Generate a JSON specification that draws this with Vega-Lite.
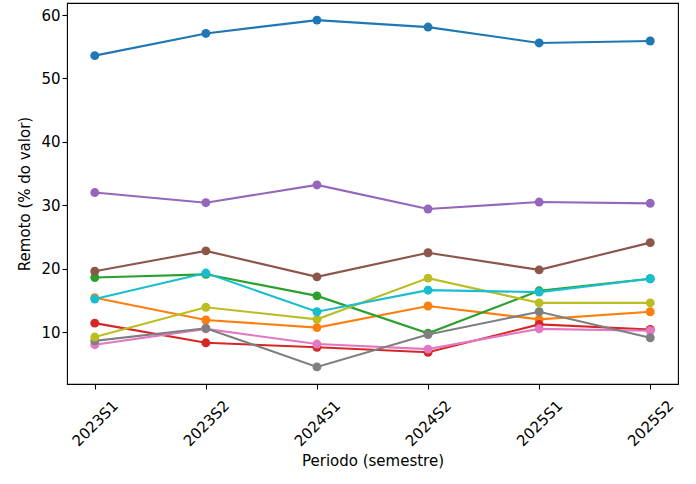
{
  "$schema": "https://vega.github.io/schema/vega-lite/v6.json",
  "width": 611,
  "height": 381,
  "autosize": "none",
  "padding": {"left": 67, "top": 3, "right": 18, "bottom": 100},
  "background": "white",
  "data": {
    "values": [
      {"serie": "A", "periodo": "2023S1", "valor": 53.6},
      {"serie": "A", "periodo": "2023S2", "valor": 57.1},
      {"serie": "A", "periodo": "2024S1", "valor": 59.2},
      {"serie": "A", "periodo": "2024S2", "valor": 58.1},
      {"serie": "A", "periodo": "2025S1", "valor": 55.6},
      {"serie": "A", "periodo": "2025S2", "valor": 55.9},
      {"serie": "B", "periodo": "2023S1", "valor": 15.4},
      {"serie": "B", "periodo": "2023S2", "valor": 11.9},
      {"serie": "B", "periodo": "2024S1", "valor": 10.7},
      {"serie": "B", "periodo": "2024S2", "valor": 14.1},
      {"serie": "B", "periodo": "2025S1", "valor": 12.0},
      {"serie": "B", "periodo": "2025S2", "valor": 13.2},
      {"serie": "C", "periodo": "2023S1", "valor": 18.6},
      {"serie": "C", "periodo": "2023S2", "valor": 19.1},
      {"serie": "C", "periodo": "2024S1", "valor": 15.7},
      {"serie": "C", "periodo": "2024S2", "valor": 9.8},
      {"serie": "C", "periodo": "2025S1", "valor": 16.5},
      {"serie": "C", "periodo": "2025S2", "valor": 18.4},
      {"serie": "D", "periodo": "2023S1", "valor": 11.4},
      {"serie": "D", "periodo": "2023S2", "valor": 8.3},
      {"serie": "D", "periodo": "2024S1", "valor": 7.6},
      {"serie": "D", "periodo": "2024S2", "valor": 6.8},
      {"serie": "D", "periodo": "2025S1", "valor": 11.2},
      {"serie": "D", "periodo": "2025S2", "valor": 10.4},
      {"serie": "E", "periodo": "2023S1", "valor": 32.0},
      {"serie": "E", "periodo": "2023S2", "valor": 30.4},
      {"serie": "E", "periodo": "2024S1", "valor": 33.2},
      {"serie": "E", "periodo": "2024S2", "valor": 29.4},
      {"serie": "E", "periodo": "2025S1", "valor": 30.5},
      {"serie": "E", "periodo": "2025S2", "valor": 30.3},
      {"serie": "F", "periodo": "2023S1", "valor": 19.6},
      {"serie": "F", "periodo": "2023S2", "valor": 22.8},
      {"serie": "F", "periodo": "2024S1", "valor": 18.7},
      {"serie": "F", "periodo": "2024S2", "valor": 22.5},
      {"serie": "F", "periodo": "2025S1", "valor": 19.8},
      {"serie": "F", "periodo": "2025S2", "valor": 24.1},
      {"serie": "G", "periodo": "2023S1", "valor": 8.0},
      {"serie": "G", "periodo": "2023S2", "valor": 10.5},
      {"serie": "G", "periodo": "2024S1", "valor": 8.1},
      {"serie": "G", "periodo": "2024S2", "valor": 7.3},
      {"serie": "G", "periodo": "2025S1", "valor": 10.5},
      {"serie": "G", "periodo": "2025S2", "valor": 10.2},
      {"serie": "H", "periodo": "2023S1", "valor": 8.6},
      {"serie": "H", "periodo": "2023S2", "valor": 10.6},
      {"serie": "H", "periodo": "2024S1", "valor": 4.5},
      {"serie": "H", "periodo": "2024S2", "valor": 9.6},
      {"serie": "H", "periodo": "2025S1", "valor": 13.2},
      {"serie": "H", "periodo": "2025S2", "valor": 9.1},
      {"serie": "I", "periodo": "2023S1", "valor": 9.2},
      {"serie": "I", "periodo": "2023S2", "valor": 13.9},
      {"serie": "I", "periodo": "2024S1", "valor": 12.0},
      {"serie": "I", "periodo": "2024S2", "valor": 18.5},
      {"serie": "I", "periodo": "2025S1", "valor": 14.6},
      {"serie": "I", "periodo": "2025S2", "valor": 14.6},
      {"serie": "J", "periodo": "2023S1", "valor": 15.2},
      {"serie": "J", "periodo": "2023S2", "valor": 19.3},
      {"serie": "J", "periodo": "2024S1", "valor": 13.2},
      {"serie": "J", "periodo": "2024S2", "valor": 16.6},
      {"serie": "J", "periodo": "2025S1", "valor": 16.3},
      {"serie": "J", "periodo": "2025S2", "valor": 18.4}
    ]
  },
  "mark": {
    "type": "line",
    "strokeWidth": 2.1,
    "point": {"filled": true, "size": 80, "opacity": 1}
  },
  "encoding": {
    "x": {
      "field": "periodo",
      "type": "ordinal",
      "scale": {"type": "point", "padding": 0.25},
      "title": "Periodo (semestre)",
      "axis": {
        "labelAngle": -45,
        "labelAlign": "center",
        "labelBaseline": "middle",
        "labelPadding": 34,
        "titlePadding": 5
      }
    },
    "y": {
      "field": "valor",
      "type": "quantitative",
      "scale": {"domain": [1.8, 61.9], "nice": false, "zero": false},
      "title": "Remoto (% do valor)",
      "axis": {"values": [10, 20, 30, 40, 50, 60], "titlePadding": 8}
    },
    "color": {
      "field": "serie",
      "type": "nominal",
      "legend": null,
      "scale": {
        "domain": ["A", "B", "C", "D", "E", "F", "G", "H", "I", "J"],
        "range": ["#1f77b4", "#ff7f0e", "#2ca02c", "#d62728", "#9467bd", "#8c564b", "#e377c2", "#7f7f7f", "#bcbd22", "#17becf"]
      }
    }
  },
  "config": {
    "view": {"stroke": "black", "strokeWidth": 1.1},
    "font": "DejaVu Sans",
    "axis": {
      "grid": false,
      "domain": false,
      "labelFont": "DejaVu Sans",
      "labelFontSize": 15,
      "labelColor": "black",
      "titleFont": "DejaVu Sans",
      "titleFontSize": 15,
      "titleFontWeight": "normal",
      "titleColor": "black",
      "tickColor": "black",
      "tickSize": 5,
      "tickWidth": 1.1
    }
  }
}
